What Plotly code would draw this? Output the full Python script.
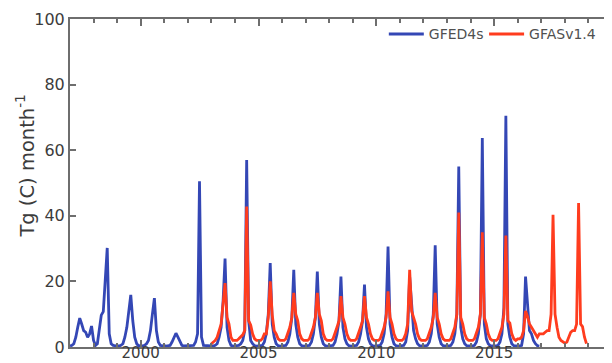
import pandas as pd
import plotly.graph_objects as go

# GFED4s monthly emissions (Tg C / month), Jan 1997 - Dec 2016
gfed_1997 = [0.3, 0.5, 1.0, 3.0, 6.0, 8.8, 7.0, 5.0, 4.5, 3.0, 4.0, 6.4]
gfed_1998 = [2.0, 0.5, 1.0, 6.0, 9.7, 10.8, 20.0, 30.2, 4.0, 1.0, 0.5, 0.3]
gfed_1999 = [0.3, 0.3, 0.5, 1.0, 3.0, 6.0, 11.0, 15.9, 8.0, 3.0, 1.0, 0.3]
gfed_2000 = [0.5, 0.3, 0.5, 1.0, 2.0, 5.0, 10.0, 14.9, 5.0, 1.5, 0.5, 0.3]
gfed_2001 = [0.3, 0.3, 0.3, 0.5, 1.5, 3.0, 4.2, 3.0, 1.5, 0.5, 0.3, 0.3]
gfed_2002 = [0.3, 0.3, 0.3, 0.5, 1.5, 4.0, 50.5, 3.0, 0.5, 0.4, 0.3, 0.3]
gfed_2003 = [0.3, 0.3, 0.5, 1.0, 3.0, 6.0, 13.8, 27.0, 6.0, 2.0, 0.5, 0.3]
gfed_2004 = [0.3, 0.3, 0.5, 1.0, 2.0, 5.0, 57.0, 8.0, 2.0, 1.0, 0.4, 0.3]
gfed_2005 = [0.3, 0.3, 0.5, 1.5, 4.0, 10.0, 25.6, 7.0, 3.0, 1.0, 0.4, 0.3]
gfed_2006 = [0.3, 0.3, 0.5, 1.5, 4.0, 9.0, 23.5, 7.0, 3.0, 1.0, 0.4, 0.3]
gfed_2007 = [0.3, 0.3, 0.5, 1.5, 4.0, 9.0, 23.0, 7.0, 3.0, 1.0, 0.4, 0.3]
gfed_2008 = [0.3, 0.3, 0.5, 1.5, 4.0, 8.0, 21.5, 6.0, 2.5, 1.0, 0.4, 0.3]
gfed_2009 = [0.3, 0.3, 0.5, 1.5, 4.0, 8.0, 19.0, 6.0, 2.5, 1.0, 0.4, 0.3]
gfed_2010 = [0.3, 0.3, 0.5, 1.5, 4.0, 10.0, 30.6, 7.0, 3.0, 1.0, 0.4, 0.3]
gfed_2011 = [0.3, 0.3, 0.5, 1.5, 5.0, 21.5, 12.0, 5.0, 2.5, 1.0, 0.4, 0.3]
gfed_2012 = [0.3, 0.3, 0.5, 1.5, 4.0, 10.0, 31.0, 7.0, 3.0, 1.0, 0.4, 0.3]
gfed_2013 = [0.3, 0.3, 0.5, 1.5, 4.0, 10.0, 55.0, 6.0, 2.5, 1.0, 0.4, 0.3]
gfed_2014 = [0.3, 0.3, 0.5, 1.5, 4.0, 10.0, 63.7, 7.0, 2.5, 1.0, 0.4, 0.3]
gfed_2015 = [0.3, 0.3, 0.5, 1.5, 4.0, 12.0, 70.5, 7.0, 3.0, 1.0, 0.4, 0.3]
gfed_2016 = [0.3, 0.3, 0.5, 4.0, 21.5, 13.8, 5.0, 4.0, 2.0, 1.0, 0.4, 0.3]

# GFASv1.4 monthly emissions (Tg C / month), Jan 2003 - Dec 2018
gfas_2003 = [1.0, 1.5, 2.0, 3.0, 5.0, 7.0, 13.0, 19.5, 9.0, 7.0, 3.0, 2.0]
gfas_2004 = [2.0, 2.0, 2.5, 3.0, 3.7, 5.0, 42.8, 8.0, 6.7, 4.0, 2.5, 2.0]
gfas_2005 = [2.0, 2.0, 2.5, 4.0, 4.0, 9.0, 20.0, 9.8, 5.0, 4.0, 2.5, 2.0]
gfas_2006 = [2.0, 2.0, 2.5, 4.0, 6.0, 9.0, 16.5, 10.0, 8.0, 4.0, 2.5, 2.0]
gfas_2007 = [2.0, 2.0, 2.5, 4.0, 6.0, 9.0, 16.5, 10.0, 8.0, 4.0, 2.5, 2.0]
gfas_2008 = [2.0, 2.0, 2.5, 4.0, 6.0, 8.0, 15.5, 9.0, 7.0, 4.0, 2.5, 2.0]
gfas_2009 = [2.0, 2.0, 2.5, 4.0, 6.0, 8.0, 15.5, 9.0, 7.0, 4.0, 2.5, 2.0]
gfas_2010 = [2.0, 2.0, 2.5, 4.0, 6.0, 9.0, 17.0, 9.0, 7.0, 4.0, 2.5, 2.0]
gfas_2011 = [2.0, 2.0, 2.5, 4.0, 7.0, 23.5, 11.0, 9.0, 7.0, 4.0, 2.5, 2.0]
gfas_2012 = [2.0, 2.0, 2.5, 4.0, 6.0, 9.0, 16.5, 9.0, 7.0, 4.0, 2.5, 2.0]
gfas_2013 = [2.0, 2.0, 2.5, 4.0, 6.0, 10.0, 41.0, 9.0, 7.0, 4.0, 2.5, 2.0]
gfas_2014 = [2.0, 2.0, 2.5, 4.0, 6.0, 10.0, 35.0, 9.0, 7.0, 4.0, 2.5, 2.0]
gfas_2015 = [2.0, 2.0, 2.5, 4.0, 6.0, 10.0, 34.0, 8.0, 7.3, 4.0, 2.5, 2.0]
gfas_2016 = [2.5, 2.5, 3.0, 5.0, 11.0, 9.3, 7.0, 6.0, 5.0, 4.0, 3.0, 4.0]
gfas_2017 = [4.0, 4.0, 4.5, 5.0, 5.0, 10.0, 40.3, 10.0, 6.0, 3.0, 2.0, 1.5]
gfas_2018 = [1.2, 1.5, 3.0, 4.5, 5.0, 5.0, 7.0, 43.9, 7.0, 6.2, 3.0, 1.0]

gfed_values = (gfed_1997 + gfed_1998 + gfed_1999 + gfed_2000 + gfed_2001 + gfed_2002
               + gfed_2003 + gfed_2004 + gfed_2005 + gfed_2006 + gfed_2007 + gfed_2008
               + gfed_2009 + gfed_2010 + gfed_2011 + gfed_2012 + gfed_2013 + gfed_2014
               + gfed_2015 + gfed_2016)
gfas_values = (gfas_2003 + gfas_2004 + gfas_2005 + gfas_2006 + gfas_2007 + gfas_2008
               + gfas_2009 + gfas_2010 + gfas_2011 + gfas_2012 + gfas_2013 + gfas_2014
               + gfas_2015 + gfas_2016 + gfas_2017 + gfas_2018)

gfed_dates = pd.date_range("1997-01-01", periods=len(gfed_values), freq="MS")
gfas_dates = pd.date_range("2003-01-01", periods=len(gfas_values), freq="MS")

series_names = ["GFED4s", "GFASv1.4"]
y_ticks = [0, 20, 40, 60, 80, 100]
x_range = ["1997-01-01", "2020-01-01"]

axis_color = "#6e6e6e"
font_color = "#3c3c3c"

fig = go.Figure()
fig.add_trace(go.Scatter(x=gfed_dates, y=gfed_values, mode="lines", name=series_names[0],
                         line=dict(color="#3447b5", width=2.8), legend="legend"))
fig.add_trace(go.Scatter(x=gfas_dates, y=gfas_values, mode="lines", name=series_names[1],
                         line=dict(color="#ff3c1e", width=2.8), legend="legend2"))

legend_style = dict(orientation="h", y=0.953, yanchor="middle", xanchor="left",
                    font=dict(size=14, color="#505050"), bgcolor="rgba(0,0,0,0)",
                    itemwidth=35)

# the page body has an 8px margin, so the figure is sized to fit the rest of the window
fig.update_layout(
    width=604, height=355,
    margin=dict(l=62, r=0, t=11, b=16, autoexpand=False),
    paper_bgcolor="white", plot_bgcolor="white",
    font=dict(family="DejaVu Sans", color=font_color, size=16),
    showlegend=True,
    legend=dict(x=0.579, **legend_style),
    legend2=dict(x=0.764, **legend_style),
    annotations=[dict(text="Tg (C) month<sup>-1</sup>", xref="paper", yref="paper",
                      x=-0.083, y=0.55, xanchor="center", yanchor="middle",
                      textangle=-90, showarrow=False,
                      font=dict(size=19.5, color=font_color))],
    xaxis=dict(
        type="date", range=x_range,
        tick0="2000-01-01", dtick="M60", tickformat="%Y",
        ticks="inside", ticklen=7, tickwidth=1.5, tickcolor=axis_color,
        minor=dict(dtick="M12", tick0="1997-01-01", ticks="inside", ticklen=4,
                   tickcolor=axis_color),
        showline=True, linecolor=axis_color, linewidth=2, mirror="ticks",
        showgrid=False, zeroline=False, automargin=False,
        tickfont=dict(size=15, color=font_color), ticklabelstandoff=-9,
    ),
    xaxis2=dict(type="date", overlaying="x", side="top", range=x_range,
                tick0="1997-01-01", dtick="M12", ticks="inside", ticklen=4,
                tickwidth=1.2, tickcolor=axis_color, showticklabels=False,
                showgrid=False, zeroline=False, showline=False, automargin=False),
    yaxis=dict(
        range=[0, 100], tickvals=y_ticks,
        ticks="inside", ticklen=6, tickwidth=1.5, tickcolor=axis_color,
        showline=True, linecolor=axis_color, linewidth=2, mirror=False,
        showgrid=False, zeroline=False, automargin=False,
        tickfont=dict(size=16, color=font_color),
    ),
)

fig.write_html("out.html")
